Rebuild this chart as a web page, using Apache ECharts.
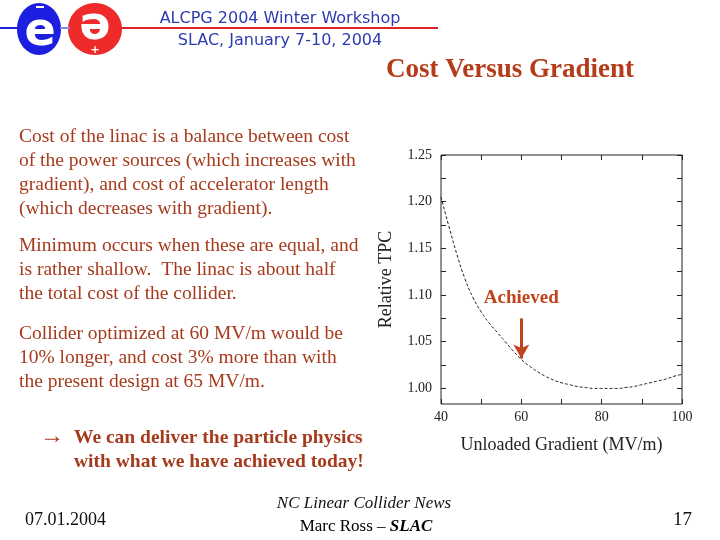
<!DOCTYPE html>
<html>
<head>
<meta charset="utf-8">
<script src="https://cdn.jsdelivr.net/npm/echarts/dist/echarts.min.js"></script>
<style>
html,body{margin:0;padding:0;background:#fff;}
#chart{width:720px;height:540px;}
</style>
</head>
<body>
<div id="chart"></div>
<script>
// Gradient (MV/m) and relative total project cost
var gradient = [40,42,44,46,48,50,52,54,56,58,60,62,64,66,68,70,72,74,76,78,80,82,84,86,88,90,92,94,96,98,100];
var relativeTPC = [1.205,1.173,1.143,1.117,1.097,1.082,1.070,1.060,1.050,1.040,1.031,1.024,1.018,1.013,1.009,1.006,1.004,1.002,1.001,1.000,1.000,1.000,1.000,1.001,1.002,1.004,1.006,1.008,1.010,1.013,1.015];
var xLabelValues = [40,60,80,100];
var xTickValues = [40,50,60,70,80,90,100];
var yLabelValues = [1.00,1.05,1.10,1.15,1.20,1.25];
var yTickValues = [1.00,1.025,1.05,1.075,1.10,1.125,1.15,1.175,1.20,1.225,1.25];
var achievedGradient = 60;
var achievedArrowTop = 1.075;
var achievedArrowTip = 1.032;
var achievedLabelY = 1.097;

var serif = '"Liberation Serif","Times New Roman",serif';
var sans = '"DejaVu Sans",Verdana,sans-serif';
var bodyColor = '#a63a1c';
var titleColor = '#b53c18';
var accent = '#bf431c';

var seriesData = gradient.map(function(g,i){return [g, relativeTPC[i]];});

var chart = echarts.init(document.getElementById('chart'), null, {renderer:'canvas'});

function yFmt(v){ return v.toFixed(2); }

var option = {
  backgroundColor:'#fff',
  animation:false,
  grid:{left:441, top:155, width:241, height:249, show:true, borderColor:'#222', borderWidth:1, backgroundColor:'transparent'},
  xAxis:[{
    type:'value', min:40, max:100, position:'bottom',
    axisLine:{show:false},
    splitLine:{show:false},
    axisTick:{show:true, inside:true, length:5, customValues:xTickValues, lineStyle:{color:'#222'}},
    axisLabel:{customValues:xLabelValues, fontFamily:serif, fontSize:14, color:'#222', margin:6},
    name:'Unloaded Gradient (MV/m)', nameLocation:'middle', nameGap:32,
    nameTextStyle:{fontFamily:serif, fontSize:18, color:'#222'}
  },{
    type:'value', min:40, max:100, position:'top',
    axisLine:{show:false}, splitLine:{show:false}, axisLabel:{show:false},
    axisTick:{show:true, inside:true, length:5, customValues:xTickValues, lineStyle:{color:'#222'}}
  }],
  yAxis:[{
    type:'value', min:0.9833, max:1.25, position:'left',
    axisLine:{show:false}, splitLine:{show:false},
    axisTick:{show:true, inside:true, length:5, customValues:yTickValues, lineStyle:{color:'#222'}},
    axisLabel:{customValues:yLabelValues, formatter:yFmt, fontFamily:serif, fontSize:14, color:'#222', margin:9},
    name:'Relative TPC', nameLocation:'middle', nameGap:46, nameRotate:90,
    nameTextStyle:{fontFamily:serif, fontSize:18, color:'#222'}
  },{
    type:'value', min:0.9833, max:1.25, position:'right',
    axisLine:{show:false}, splitLine:{show:false}, axisLabel:{show:false},
    axisTick:{show:true, inside:true, length:5, customValues:yTickValues, lineStyle:{color:'#222'}}
  }],
  series:[{
    type:'line', data:seriesData, smooth:true, showSymbol:false, symbol:'none',
    lineStyle:{color:'#222', width:1, type:[3,2]},
    markLine:{
      silent:true, symbol:['none','arrow'], symbolSize:[12,14],
      label:{show:false},
      lineStyle:{color:accent, width:3, type:'solid'},
      data:[[{coord:[achievedGradient, achievedArrowTop]},{coord:[achievedGradient, achievedArrowTip]}]]
    },
    markPoint:{
      silent:true, symbol:'circle', symbolSize:0,
      label:{show:true, formatter:'Achieved', position:'inside', fontFamily:serif, fontWeight:'bold', fontSize:19, color:accent},
      data:[{coord:[achievedGradient, achievedLabelY]}]
    }
  }],
  graphic:[
    // logo
    {type:'line', shape:{x1:0,y1:28,x2:40,y2:28}, style:{stroke:'#1e22d8', lineWidth:2}},
    {type:'line', shape:{x1:90,y1:28,x2:438,y2:28}, style:{stroke:'#e02424', lineWidth:2}},
    {type:'ellipse', shape:{cx:39,cy:29,rx:22,ry:26}, style:{fill:'#1c1ee0'}},
    {type:'ellipse', shape:{cx:95,cy:29,rx:27,ry:26}, style:{fill:'#ee2a2a'}},
    {type:'line', shape:{x1:60,y1:28,x2:70,y2:28}, style:{stroke:'#8888ee', lineWidth:2}},
    {type:'text', style:{text:'e', x:40, y:33, align:'center', verticalAlign:'middle', font:'bold 46px '+sans, fill:'#fff'}},
    {type:'rect', shape:{x:36,y:6,width:8,height:2}, style:{fill:'#fff'}},
    {type:'text', style:{text:'ə', x:95, y:27, align:'center', verticalAlign:'middle', font:'bold 46px '+sans, fill:'#fff'}},
    {type:'text', style:{text:'+', x:95, y:50, align:'center', verticalAlign:'middle', font:'bold 11px '+sans, fill:'#fff'}},
    // header
    {type:'text', style:{text:'ALCPG 2004 Winter Workshop', x:280, y:19, align:'center', verticalAlign:'middle', font:'16px '+sans, fill:'#2d3bb0'}},
    {type:'text', style:{text:'SLAC, January 7-10, 2004', x:280, y:41, align:'center', verticalAlign:'middle', font:'16px '+sans, fill:'#2d3bb0'}},
    // title
    {type:'text', style:{text:'Cost Versus Gradient', x:510, y:70, align:'center', verticalAlign:'middle', font:'bold 27px '+serif, fill:titleColor}},
    // body text
    {type:'text', style:{text:'Cost of the linac is a balance between cost\nof the power sources (which increases with\ngradient), and cost of accelerator length\n(which decreases with gradient).', x:19, y:125, lineHeight:24, verticalAlign:'top', font:'19.5px '+serif, fill:bodyColor}},
    {type:'text', style:{text:'Minimum occurs when these are equal, and\nis rather shallow.  The linac is about half\nthe total cost of the collider.', x:19, y:234, lineHeight:24, verticalAlign:'top', font:'19.5px '+serif, fill:bodyColor}},
    {type:'text', style:{text:'Collider optimized at 60 MV/m would be\n10% longer, and cost 3% more than with\nthe present design at 65 MV/m.', x:19, y:322, lineHeight:24, verticalAlign:'top', font:'19.5px '+serif, fill:bodyColor}},
    {type:'text', style:{text:'\u2192', x:40, y:437, verticalAlign:'middle', font:'24px '+serif, fill:bodyColor}},
    {type:'text', style:{text:'We can deliver the particle physics', x:74, y:438, verticalAlign:'middle', font:'bold 19.5px '+serif, fill:bodyColor}},
    {type:'text', style:{text:'with what we have achieved today!', x:74, y:462, verticalAlign:'middle', font:'bold 19.5px '+serif, fill:bodyColor}},
    // footer
    {type:'text', style:{text:'07.01.2004', x:25, y:520, verticalAlign:'middle', font:'18px '+serif, fill:'#111'}},
    {type:'text', style:{text:'NC Linear Collider News', x:364, y:504, align:'center', verticalAlign:'middle', font:'italic 17px '+serif, fill:'#111'}},
    {type:'text', style:{text:'{n|Marc Ross \u2013 }{b|SLAC}', x:366, y:527, align:'center', verticalAlign:'middle',
      rich:{n:{fontFamily:serif, fontSize:17, color:'#111'}, b:{fontFamily:serif, fontSize:17, fontStyle:'italic', fontWeight:'bold', color:'#111'}}}},
    {type:'text', style:{text:'17', x:692, y:520, align:'right', verticalAlign:'middle', font:'19px '+serif, fill:'#111'}}
  ]
};
chart.setOption(option);
</script>
</body>
</html>
